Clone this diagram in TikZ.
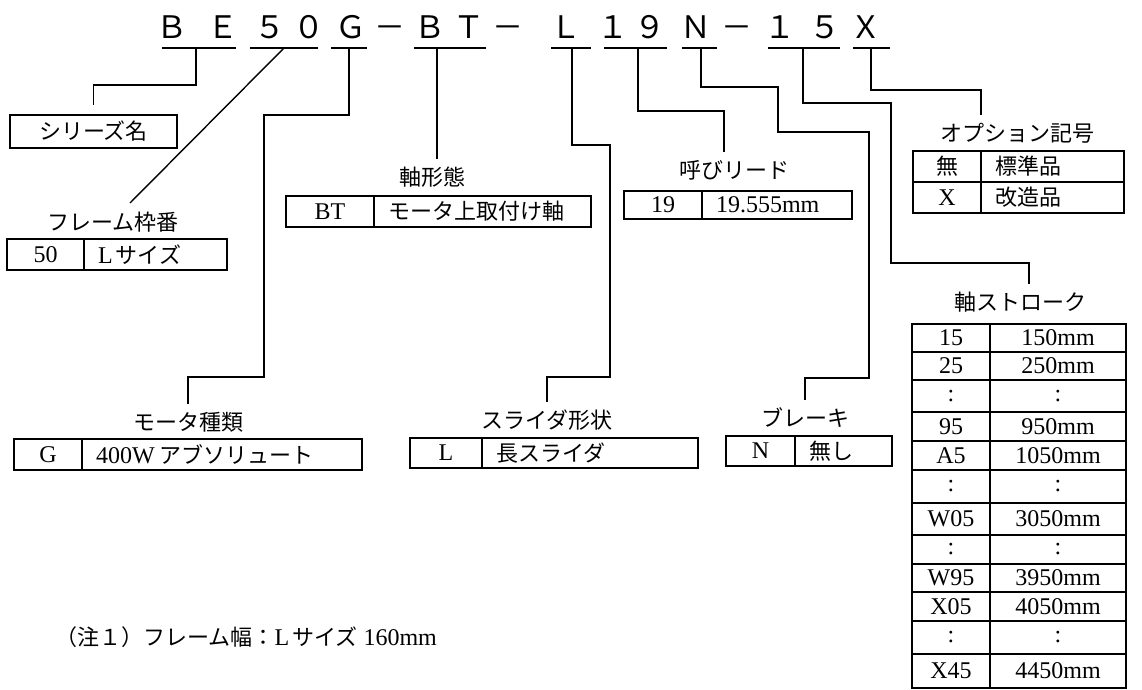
\documentclass[tikz,border=0pt]{standalone}
\usepackage{fontspec}
\setmainfont{Liberation Serif}
\newfontfamily\jpfont{Noto Sans CJK JP}
\newcommand{\jtext}[1]{{\jpfont\fontsize{22}{24}\selectfont #1}}
\usetikzlibrary{positioning,calc}

\tikzset{
  code/.style={font=\jpfont\fontsize{31}{34}\selectfont, inner sep=0pt, anchor=base},
  uline/.style={line width=1.8pt},
  conn/.style={line width=1.4pt},
  lbl/.style={font=\jpfont\fontsize{22}{24}\selectfont, inner sep=0pt, outer ysep=8pt},
  cell/.style={draw, line width=1.8pt, inner sep=0pt, outer sep=0pt, font=\fontsize{24}{26}\selectfont},
  txtcell/.style={cell, align=left, inner xsep=14pt, text width=#1},
}

\begin{document}
\begin{tikzpicture}[x=1pt,y=-1pt]
\useasboundingbox (0,0) rectangle (1142,690);

% model code
\foreach \ch/\cx [count=\i] in {Ｂ/172,Ｅ/223,５/270,０/309,Ｇ/351,－/390,Ｂ/430,Ｔ/469,－/508,Ｌ/566,１/613,９/650,Ｎ/696,－/737,１/780,５/825,Ｘ/866}
  \node[code] (c\i) at (\cx,39) {\ch};
\foreach \xa/\xb/\xu/\nm in {162/236/196/BE, 250/318/284/Fr, 331/367/349/G, 414/486/437/BT, 551/591/572/L, 604/667/638/19, 682/717/701/N, 768/840/803/15, 853/890/871/X}
{
  \draw[uline] (\xa,48) -- (\xb,48);
  \coordinate (u\nm) at (\xu,48);
}

% series name
\node[cell, minimum width=167pt, minimum height=33pt, outer ysep=10pt] (sr) at (93.5,131.5) {\jtext{シリーズ名}};
\draw[conn] (uBE) -- ++(0,37) -| (sr.north);

% frame size
\node[lbl] (lFr) at (113,222) {フレーム枠番};
\node[cell, anchor=north west, minimum width=77pt, minimum height=31pt] (fr1) at (7,239) {50};
\node[txtcell=115pt, minimum height=31pt, right=0pt of fr1] (fr2) {L\kern3pt\jtext{サイズ}};
\coordinate (eFr) at (130,203);
\draw[conn] (uFr) -- (eFr);

% motor
\node[lbl] (lMo) at (188,422) {モータ種類};
\node[cell, anchor=north west, minimum width=68pt, minimum height=31pt] (mo1) at (14,439) {G};
\node[txtcell=252pt, minimum height=31pt, right=0pt of mo1] (mo2) {400W\kern5pt\jtext{アブソリュート}};
\draw[conn] (uG) -- ++(0,67) -| (264,377) -| (lMo.north);

% shaft form
\node[lbl] (lSh) at (432,177) {軸形態};
\node[cell, anchor=north west, minimum width=88pt, minimum height=31pt] (sh1) at (286,196) {BT};
\node[txtcell=189pt, minimum height=31pt, right=0pt of sh1] (sh2) {\jtext{モータ上取付け軸}};
\draw[conn] (uBT) -- (uBT |- lSh.north);

% slider
\node[lbl] (lSl) at (547,420) {スライダ形状};
\node[cell, anchor=north west, minimum width=72pt, minimum height=30pt] (sl1) at (410,438) {L};
\node[txtcell=188pt, minimum height=30pt, right=0pt of sl1] (sl2) {\jtext{長スライダ}};
\draw[conn] (uL) -- ++(0,97) -| (610,377) -| (lSl.north);

% lead
\node[lbl] (lLd) at (734,170) {呼びリード};
\node[cell, anchor=north west, minimum width=78pt, minimum height=28pt] (ld1) at (624,191) {19};
\node[txtcell=122pt, minimum height=28pt, right=0pt of ld1] (ld2) {19.555mm};
\draw[conn] (u19) -- ++(0,63) -| ([xshift=-10pt]lLd.north);

% brake
\node[lbl] (lBr) at (805,418) {ブレーキ};
\node[cell, anchor=north west, minimum width=69pt, minimum height=30pt] (br1) at (726,436) {N};
\node[txtcell=69pt, minimum height=30pt, right=0pt of br1] (br2) {\jtext{無し}};
\draw[conn] (uN) -- ++(0,39) -| (778,132) -| (869,378) -| (lBr.north);

% option
\node[lbl] (lOp) at (1017,133) {オプション記号};
\node[cell, anchor=north west, minimum width=68pt, minimum height=31pt] (op1) at (913,151) {\jtext{無}};
\node[txtcell=115pt, minimum height=31pt, right=0pt of op1] (op2) {\jtext{標準品}};
\node[cell, minimum width=68pt, minimum height=31pt, below=0pt of op1] (op3) {X};
\node[txtcell=115pt, minimum height=31pt, right=0pt of op3] (op4) {\jtext{改造品}};
\draw[conn] (uX) -- ++(0,42) -| (op1.east |- lOp.north);

% stroke
\node[lbl] (lSt) at (1020,302) {軸ストローク};
\foreach \ca/\cb/\ty/\hh [count=\i] in {15/150mm/324/28, 25/250mm/352/28, :/:/380/32, 95/950mm/412/29, A5/1050mm/441/29, :/:/470/33, W05/3050mm/503/32, :/:/535/29, W95/3950mm/564/28, X05/4050mm/592/29, :/:/621/33, X45/4450mm/654/34}
{
  \node[cell, anchor=north west, minimum width=78pt, minimum height=\hh pt] (sa\i) at (912,\ty) {\ca};
  \node[cell, minimum width=136pt, minimum height=\hh pt, right=0pt of sa\i] (sb\i) {\cb};
}
\draw[conn] (u15) -- ++(0,55) -| (891,263) -| ([xshift=9pt]lSt.north);

% note
\node[anchor=west, inner sep=0pt, font=\fontsize{24}{26}\selectfont] (nt) at (55,637) {\jtext{（注１）フレーム幅：}L\kern3pt\jtext{サイズ} 160mm};
\end{tikzpicture}
\end{document}
